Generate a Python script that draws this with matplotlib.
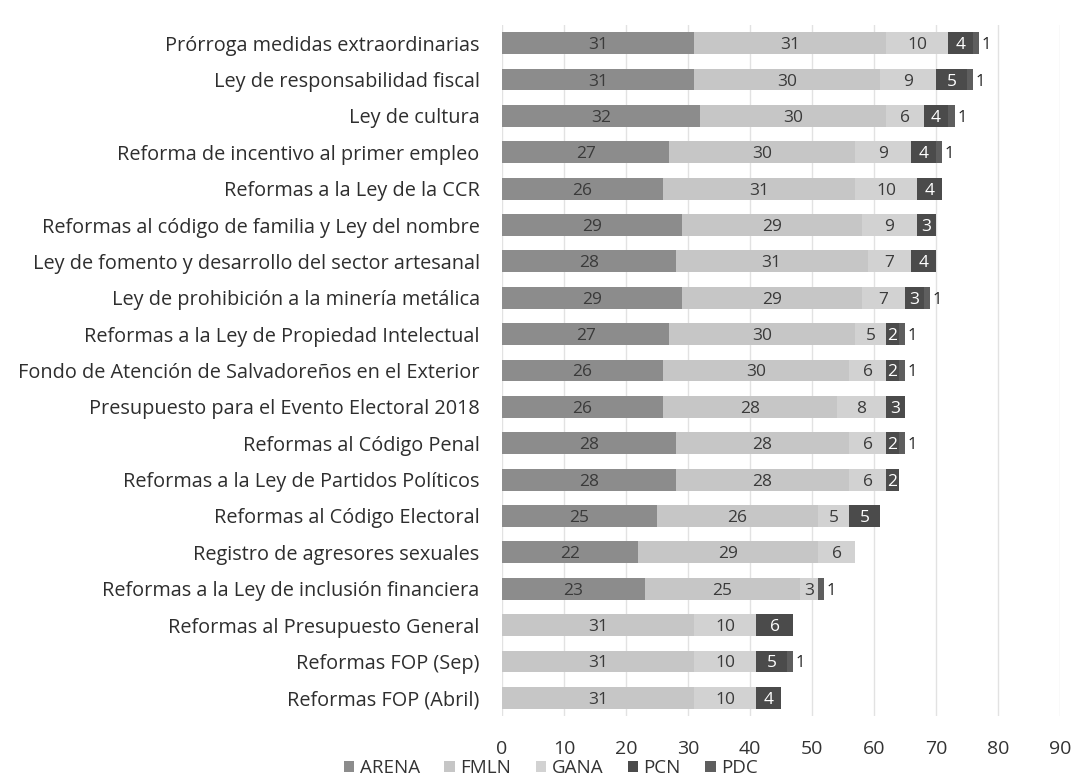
import matplotlib
matplotlib.use("Agg")
import matplotlib.pyplot as plt
import numpy as np

plt.rcParams['font.family'] = ['Open Sans', 'DejaVu Sans']

categories = [
    "Prórroga medidas extraordinarias",
    "Ley de responsabilidad fiscal",
    "Ley de cultura",
    "Reforma de incentivo al primer empleo",
    "Reformas a la Ley de la CCR",
    "Reformas al código de familia y Ley del nombre",
    "Ley de fomento y desarrollo del sector artesanal",
    "Ley de prohibición a la minería metálica",
    "Reformas a la Ley de Propiedad Intelectual",
    "Fondo de Atención de Salvadoreños en el Exterior",
    "Presupuesto para el Evento Electoral 2018",
    "Reformas al Código Penal",
    "Reformas a la Ley de Partidos Políticos",
    "Reformas al Código Electoral",
    "Registro de agresores sexuales",
    "Reformas a la Ley de inclusión financiera",
    "Reformas al Presupuesto General",
    "Reformas FOP (Sep)",
    "Reformas FOP (Abril)",
]

arena = [31, 31, 32, 27, 26, 29, 28, 29, 27, 26, 26, 28, 28, 25, 22, 23, 0, 0, 0]
fmln = [31, 30, 30, 30, 31, 29, 31, 29, 30, 30, 28, 28, 28, 26, 29, 25, 31, 31, 31]
gana = [10, 9, 6, 9, 10, 9, 7, 7, 5, 6, 8, 6, 6, 5, 6, 3, 10, 10, 10]
pcn = [4, 5, 4, 4, 4, 3, 4, 3, 2, 2, 3, 2, 2, 5, 0, 0, 6, 5, 4]
pdc = [1, 1, 1, 1, 0, 0, 0, 1, 1, 1, 0, 1, 0, 0, 0, 1, 0, 1, 0]

parties = ["ARENA", "FMLN", "GANA", "PCN", "PDC"]
series = [arena, fmln, gana, pcn, pdc]
colors = ["#8c8c8c", "#c6c6c6", "#d2d2d2", "#4b4b4b", "#5e5e5e"]
label_colors = ["#3a3a3a", "#3a3a3a", "#3a3a3a", "#ffffff", "#222222"]

fig = plt.figure(figsize=(10.76, 7.80), dpi=100)
ax = fig.add_axes([0.4665, 0.082, 0.5186, 0.886])

y = np.arange(len(categories))
left = np.zeros(len(categories))
for name, vals, col, lc in zip(parties, series, colors, label_colors):
    vals = np.array(vals, dtype=float)
    ax.barh(y, vals, left=left, height=0.6, color=col, label=name, zorder=2)
    for yi, (l, v) in enumerate(zip(left, vals)):
        if v <= 0:
            continue
        if name == "PDC":
            ax.text(l + v + 0.4, yi, f"{int(v)}", ha='left', va='center_baseline',
                    fontsize=12, color=lc, zorder=3)
        else:
            ax.text(l + v / 2, yi, f"{int(v)}", ha='center', va='center_baseline',
                    fontsize=12.5, color=lc, zorder=3)
    left = left + vals

ax.set_xlim(0, 90)
ax.set_ylim(len(categories) - 0.5, -0.5)
ax.set_xticks(range(0, 91, 10))
ax.set_yticks(y)
ax.set_yticklabels(categories, fontsize=14.3, color="#2e2e2e")
ax.tick_params(axis='x', labelsize=14, labelcolor="#333333", length=0, pad=17)
ax.tick_params(axis='y', length=0, pad=16)
for s in ax.spines.values():
    s.set_visible(False)
ax.grid(axis='x', color="#e2e2e2", linewidth=1, zorder=0)
ax.set_axisbelow(True)

fig.legend(loc='center', bbox_to_anchor=(0.512, 0.015), ncol=5, frameon=False,
           fontsize=13.5, handlelength=0.55, handleheight=0.55, handletextpad=0.3,
           columnspacing=1.3, labelcolor="#333333")

fig.savefig("out.png", dpi=100)
